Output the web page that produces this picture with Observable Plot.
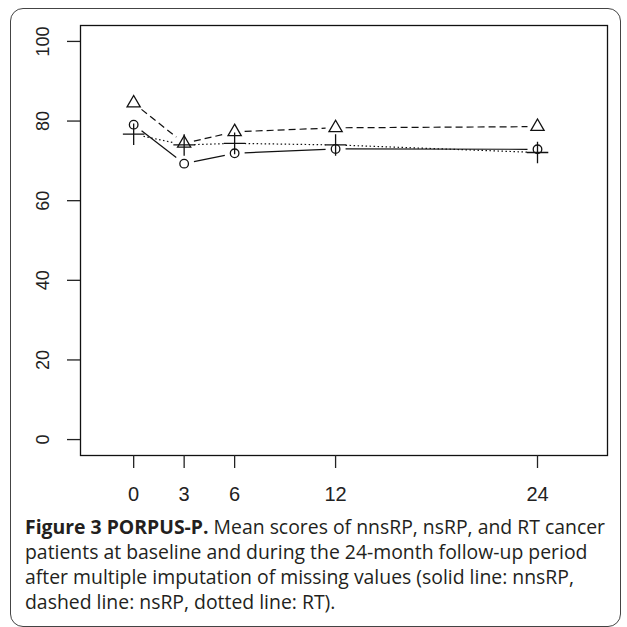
<!DOCTYPE html>
<html>
<head>
<meta charset="utf-8">
<script src="https://cdn.jsdelivr.net/npm/d3@7"></script>
<script src="https://cdn.jsdelivr.net/npm/@observablehq/plot@0.6"></script>
<style>
  html, body { margin: 0; padding: 0; background: #fff; }
  #wrap { position: relative; width: 627px; height: 627px; overflow: hidden; }
  #border { position: absolute; left: 10px; top: 8px; width: 611px; height: 619px;
            border: 1.5px solid #444; border-radius: 13px; box-sizing: border-box; }
  #chart { position: absolute; left: 0; top: 0; }
  #caption { position: absolute; left: 25px; top: 514px; font-family: "Open Sans", sans-serif;
             font-size: 19.4px; line-height: 25px; color: #231f20; white-space: nowrap; }
  #caption b { font-weight: 700; }
</style>
</head>
<body>
<div id="wrap">
  <div id="border"></div>
  <div id="chart"></div>
  <div id="caption"></div>
</div>
<script>
// Months of follow-up
const months = [0, 3, 6, 12, 24];
// Mean PORPUS-P scores
const nnsRP = [79.1, 69.3, 71.9, 73.0, 72.9];   // solid line, circles
const nsRP  = [84.5, 74.4, 77.3, 78.3, 78.6];   // dashed line, triangles
const RT    = [76.7, 74.0, 74.4, 74.0, 72.1];   // dotted line, plus signs
const xTicks = [0, 3, 6, 12, 24];
const yTicks = [0, 20, 40, 60, 80, 100];
const captionBold = "Figure 3 PORPUS-P.";
const captionLines = [
  " Mean scores of nnsRP, nsRP, and RT cancer",
  "patients at baseline and during the 24-month follow-up period",
  "after multiple imputation of missing values (solid line: nnsRP,",
  "dashed line: nsRP, dotted line: RT)."
];

const series = [
  {name: "nnsRP", values: nnsRP, symbol: "circle", r: 4.3, dash: null},
  {name: "nsRP", values: nsRP, symbol: "triangle", r: 4.9, dash: "7,4"},
  {name: "RT", values: RT, symbol: "plus", r: 7, dash: "1.5,2.5"}
];

const marks = [
  Plot.frame({stroke: "#111", strokeWidth: 1.3}),
  Plot.axisX({ticks: xTicks, tickSize: 13, tickPadding: 18, tickFormat: d => String(d),
              fontSize: 20, stroke: "#222", strokeWidth: 1.3}),
  Plot.axisY({ticks: yTicks, tickSize: 13, tickFormat: () => "", stroke: "#222", strokeWidth: 1.3}),
  Plot.text(yTicks, {y: d => d, text: d => String(d), frameAnchor: "left", dx: -37,
                     rotate: -90, textAnchor: "middle", lineAnchor: "middle", fontSize: 18, fill: "#222"})
];

for (const s of series) {
  const pts = months.map((m, i) => ({x: m, y: s.values[i]}));
  const segs = pts.slice(1).map((p, i) => ({x1: pts[i].x, y1: pts[i].y, x2: p.x, y2: p.y}));
  marks.push(Plot.arrow(segs, {x1: "x1", y1: "y1", x2: "x2", y2: "y2", bend: 0, headLength: 0,
    inset: 10, stroke: "#111", strokeWidth: 1.2, strokeDasharray: s.dash, strokeLinecap: "butt"}));
  marks.push(Plot.dot(pts, {x: "x", y: "y", symbol: s.symbol, r: s.r, stroke: "#111",
    fill: "none", strokeWidth: 1.3}));
}

const chart = Plot.plot({
  width: 627,
  height: 510,
  marginLeft: 80,
  marginRight: 20,
  marginTop: 25,
  marginBottom: 55,
  style: {fontFamily: "'Liberation Sans', Arial, sans-serif", fontSize: "18px", color: "#222", background: "transparent"},
  x: {domain: [-3.16, 28.16]},
  y: {domain: [-4, 104]},
  marks
});
document.getElementById("chart").appendChild(chart);

const cap = document.getElementById("caption");
const b = document.createElement("b");
b.textContent = captionBold;
cap.appendChild(b);
captionLines.forEach((line, i) => {
  if (i > 0) cap.appendChild(document.createElement("br"));
  cap.appendChild(document.createTextNode(line));
});
</script>
</body>
</html>
